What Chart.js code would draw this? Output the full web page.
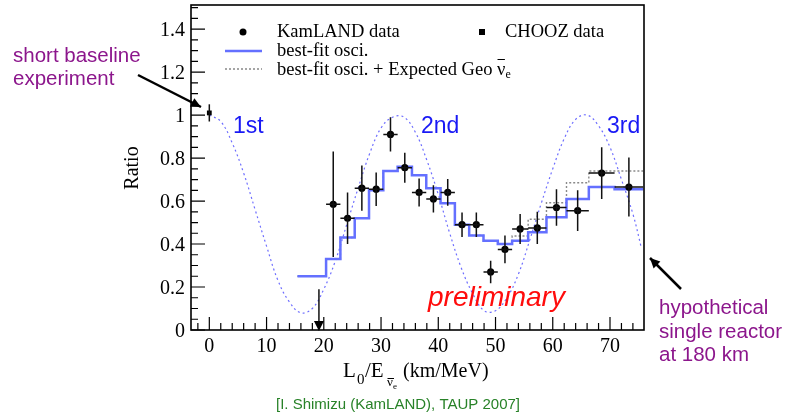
<!DOCTYPE html>
<html>
<head>
<meta charset="utf-8">
<script src="https://cdn.jsdelivr.net/npm/chart.js@4.4.0/dist/chart.umd.min.js"></script>
<style>
  body { margin: 0; background: #fff; }
  #wrap { position: relative; width: 787px; height: 417px; }
</style>
</head>
<body>
<div id="wrap"><canvas id="ratioChart" width="787" height="417"></canvas></div>
<script>
// hypothetical single reactor at 180 km (dotted curve)
const curveX = [0, 2, 4, 6, 8, 10, 12, 14, 16, 18, 20, 22, 24, 26, 28, 30, 32, 34, 36, 38,
  40, 42, 44, 46, 48, 50, 52, 54, 56, 58, 60, 62, 64, 66, 68, 70, 72, 74, 75.5]
const curveY = [1.0, 0.97, 0.87, 0.73, 0.56, 0.39, 0.23, 0.13, 0.08, 0.10, 0.19, 0.32, 0.49, 0.66, 0.82, 0.94, 0.99, 0.99, 0.92, 0.79,
  0.63, 0.45, 0.29, 0.17, 0.09, 0.09, 0.15, 0.26, 0.42, 0.59, 0.75, 0.89, 0.98, 1.0, 0.95, 0.85, 0.70, 0.54, 0.38]

// histogram bins (L0/E) for the best fit lines
const binEdges = [15.4, 17.9, 20.4, 22.9, 25.4, 27.9, 30.4, 32.9, 35.4, 37.9, 40.4, 42.9, 45.4, 47.9, 50.4, 52.9, 55.7, 58.9, 62.4, 66.3, 70.8, 75.8]
const bestFit = [0.25, 0.25, 0.33, 0.43, 0.52, 0.65, 0.74, 0.76, 0.72, 0.66, 0.59, 0.49, 0.44, 0.415, 0.40, 0.415, 0.455, 0.525, 0.61, 0.665, 0.655]
const bestFitGeo = [0.25, 0.25, 0.33, 0.43, 0.52, 0.65, 0.74, 0.76, 0.72, 0.66, 0.59, 0.49, 0.44, 0.415, 0.40, 0.437, 0.515, 0.592, 0.685, 0.74, 0.74]

// KamLAND data points
const kamX = [21.65, 24.15, 26.65, 29.15, 31.65, 34.15, 36.65, 39.15, 41.65, 44.15, 46.65, 49.15, 51.65, 54.3, 57.3, 60.65, 64.35, 68.55, 73.3]
const kamY = [0.585, 0.52, 0.66, 0.655, 0.91, 0.755, 0.64, 0.61, 0.64, 0.49, 0.49, 0.27, 0.375, 0.47, 0.475, 0.57, 0.555, 0.73, 0.665]
const kamErr = [0.245, 0.12, 0.105, 0.078, 0.08, 0.07, 0.065, 0.063, 0.062, 0.057, 0.057, 0.052, 0.065, 0.07, 0.075, 0.085, 0.095, 0.12, 0.137]
const kamXErr = [1.25, 1.25, 1.25, 1.25, 1.25, 1.25, 1.25, 1.25, 1.25, 1.25, 1.25, 1.25, 1.25, 1.4, 1.6, 1.75, 1.95, 2.25, 2.5]

// upper limit bin (arrow)
const limX = 19.15
const limY = 0.19

// CHOOZ
const choozX = [0]
const choozY = [1.01]
const choozErr = [0.04]

const xTicks = [0, 10, 20, 30, 40, 50, 60, 70]
const yTicks = [0, 0.2, 0.4, 0.6, 0.8, 1.0, 1.2, 1.4]

const serif = '"Liberation Serif", "Times New Roman", serif'
const sans = '"Liberation Sans", Arial, sans-serif'
const fitBlue = 'rgb(100, 112, 255)'
const purple = 'rgb(140, 22, 140)'

function stepData(vals) {
  return binEdges.map((e, i) => ({ x: e, y: vals[Math.min(i, vals.length - 1)] }))
}

function arrow(ctx, x1, y1, x2, y2, head) {
  ctx.beginPath()
  ctx.moveTo(x1, y1)
  ctx.lineTo(x2, y2)
  ctx.stroke()
  const a = Math.atan2(y2 - y1, x2 - x1)
  ctx.beginPath()
  ctx.moveTo(x2, y2)
  ctx.lineTo(x2 - head * Math.cos(a - 0.45), y2 - head * Math.sin(a - 0.45))
  ctx.lineTo(x2 - head * Math.cos(a + 0.45), y2 - head * Math.sin(a + 0.45))
  ctx.closePath()
  ctx.fill()
}

// error bars, frame, ticks, legend and all the labels
const extras = {
  id: 'extras',
  afterDatasetsDraw(chart) {
    const ctx = chart.ctx
    const xs = chart.scales.x, ys = chart.scales.y
    ctx.save()
    ctx.strokeStyle = '#111'
    ctx.fillStyle = '#000'
    ctx.lineWidth = 1.5
    kamX.forEach((x, i) => {
      const px = xs.getPixelForValue(x), py = ys.getPixelForValue(kamY[i])
      ctx.beginPath()
      ctx.moveTo(px, ys.getPixelForValue(kamY[i] + kamErr[i]))
      ctx.lineTo(px, ys.getPixelForValue(kamY[i] - kamErr[i]))
      ctx.moveTo(xs.getPixelForValue(x - kamXErr[i]), py)
      ctx.lineTo(xs.getPixelForValue(x + kamXErr[i]), py)
      ctx.stroke()
    })
    choozX.forEach((x, i) => {
      const px = xs.getPixelForValue(x)
      ctx.beginPath()
      ctx.moveTo(px, ys.getPixelForValue(choozY[i] + choozErr[i]))
      ctx.lineTo(px, ys.getPixelForValue(choozY[i] - choozErr[i]))
      ctx.stroke()
    })
    // upper limit
    const lx = xs.getPixelForValue(limX), l0 = ys.getPixelForValue(0)
    ctx.beginPath()
    ctx.moveTo(lx, ys.getPixelForValue(limY))
    ctx.lineTo(lx, l0 - 6)
    ctx.stroke()
    ctx.beginPath()
    ctx.moveTo(lx - 5, l0 - 9)
    ctx.lineTo(lx + 5, l0 - 9)
    ctx.lineTo(lx, l0 + 1)
    ctx.closePath()
    ctx.fill()
    ctx.restore()
  },
  afterDraw(chart) {
    const ctx = chart.ctx
    const a = chart.chartArea
    const xs = chart.scales.x, ys = chart.scales.y
    ctx.save()
    // frame
    ctx.strokeStyle = '#000'
    ctx.lineWidth = 1.6
    ctx.strokeRect(a.left, a.top, a.right - a.left, a.bottom - a.top)
    // ticks (inside, root style)
    ctx.lineWidth = 1.2
    ctx.beginPath()
    for (let v = -2; v <= 75; v += 2) {
      const px = xs.getPixelForValue(v)
      const len = v % 10 === 0 ? 13 : 7
      ctx.moveTo(px, a.bottom)
      ctx.lineTo(px, a.bottom - len)
    }
    for (let k = 0; k <= 30; k++) {
      const py = ys.getPixelForValue(k * 0.05)
      const len = k % 4 === 0 ? 14 : 7
      ctx.moveTo(a.left, py)
      ctx.lineTo(a.left + len, py)
    }
    ctx.stroke()

    ctx.fillStyle = '#000'
    // y title
    ctx.save()
    ctx.translate(138, 168)
    ctx.rotate(-Math.PI / 2)
    ctx.font = '20px ' + serif
    ctx.textAlign = 'center'
    ctx.fillText('Ratio', 0, 0)
    ctx.restore()

    // x title L0/E(nubar e) (km/MeV)
    ctx.textAlign = 'left'
    ctx.font = '21px ' + serif
    ctx.fillText('L', 343, 377)
    ctx.font = '15px ' + serif
    ctx.fillText('0', 357, 384)
    ctx.font = '21px ' + serif
    ctx.fillText('/E', 365, 377)
    ctx.font = '13px ' + serif
    ctx.fillText('ν', 387, 386)
    ctx.lineWidth = 1
    ctx.beginPath()
    ctx.moveTo(387.5, 378.5)
    ctx.lineTo(394, 378.5)
    ctx.stroke()
    ctx.font = '9px ' + serif
    ctx.fillText('e', 393, 389)
    ctx.font = '20px ' + serif
    ctx.fillText('(km/MeV)', 403, 377)

    // legend
    ctx.beginPath()
    ctx.arc(243, 32, 3.5, 0, Math.PI * 2)
    ctx.fill()
    ctx.fillRect(479, 29, 6, 6)
    ctx.font = '18.5px ' + serif
    ctx.fillText('KamLAND data', 277, 37)
    ctx.fillText('CHOOZ data', 505, 37)
    ctx.strokeStyle = fitBlue
    ctx.lineWidth = 2.5
    ctx.beginPath()
    ctx.moveTo(225, 51)
    ctx.lineTo(262, 51)
    ctx.stroke()
    ctx.fillText('best-fit osci.', 277, 56)
    ctx.strokeStyle = '#888'
    ctx.lineWidth = 1.3
    ctx.setLineDash([2, 2])
    ctx.beginPath()
    ctx.moveTo(225, 69)
    ctx.lineTo(262, 69)
    ctx.stroke()
    ctx.setLineDash([])
    const geoTxt = 'best-fit osci. + Expected Geo '
    ctx.fillText(geoTxt, 277, 75)
    let gx = 277 + ctx.measureText(geoTxt).width
    ctx.fillText('ν', gx, 75)
    const nuW = ctx.measureText('ν').width
    ctx.strokeStyle = '#000'
    ctx.lineWidth = 1
    ctx.beginPath()
    ctx.moveTo(gx + 0.5, 59.5)
    ctx.lineTo(gx + nuW - 0.5, 59.5)
    ctx.stroke()
    ctx.font = '12px ' + serif
    ctx.fillText('e', gx + nuW, 78)

    // oscillation max labels
    ctx.fillStyle = 'rgb(25, 25, 245)'
    ctx.font = '23px ' + sans
    ctx.fillText('1st', 233, 133)
    ctx.fillText('2nd', 421, 133)
    ctx.fillText('3rd', 607, 133)

    ctx.fillStyle = 'rgb(255, 12, 12)'
    ctx.font = 'italic 28px ' + sans
    ctx.fillText('preliminary', 428, 306)

    // side notes
    ctx.fillStyle = purple
    ctx.font = '20.5px ' + sans
    ctx.fillText('short baseline', 13, 62)
    ctx.fillText('experiment', 13, 85)
    ctx.fillText('hypothetical', 659, 314)
    ctx.fillText('single reactor', 659, 337.5)
    ctx.fillText('at 180 km', 659, 361)
    ctx.strokeStyle = '#000'
    ctx.fillStyle = '#000'
    ctx.lineWidth = 2.5
    arrow(ctx, 138, 75, 201, 107, 11)
    arrow(ctx, 681, 289, 650, 258, 11)

    ctx.fillStyle = 'rgb(40, 130, 40)'
    ctx.font = '15px ' + sans
    ctx.textAlign = 'center'
    ctx.fillText('[I. Shimizu (KamLAND), TAUP 2007]', 398, 409)
    ctx.restore()
  }
}

const chartEl = document.getElementById('ratioChart')

let ratioChart = new Chart(chartEl, {
  type: 'scatter',
  data: {
    datasets: [
      {
        label: 'KamLAND data',
        data: kamX.map((x, i) => ({ x: x, y: kamY[i] })),
        pointRadius: 3.6,
        pointBackgroundColor: '#000',
        pointBorderWidth: 0,
        order: 0
      },
      {
        label: 'CHOOZ data',
        data: choozX.map((x, i) => ({ x: x, y: choozY[i] })),
        pointStyle: 'rect',
        pointRadius: 3.4,
        pointBackgroundColor: '#000',
        pointBorderWidth: 0,
        order: 0
      },
      {
        label: 'best-fit osci.',
        type: 'line',
        data: stepData(bestFit),
        stepped: 'before',
        borderColor: fitBlue,
        borderWidth: 2.5,
        pointRadius: 0,
        fill: false,
        order: 1
      },
      {
        label: 'best-fit osci. + Expected Geo',
        type: 'line',
        data: stepData(bestFitGeo),
        stepped: 'before',
        borderColor: '#8a8a8a',
        borderDash: [2, 2],
        borderWidth: 1.4,
        pointRadius: 0,
        fill: false,
        order: 2
      },
      {
        label: 'single reactor',
        type: 'line',
        data: curveX.map((x, i) => ({ x: x, y: curveY[i] })),
        borderColor: 'rgb(110, 110, 255)',
        borderDash: [2, 3],
        borderWidth: 1.2,
        tension: 0.4,
        pointRadius: 0,
        fill: false,
        order: 3
      }
    ]
  },
  options: {
    responsive: false,
    animation: false,
    devicePixelRatio: 1,
    layout: { padding: { left: 0, right: 143, top: 5, bottom: 0 } },
    plugins: { legend: { display: false }, tooltip: { enabled: false } },
    scales: {
      x: {
        type: 'linear',
        min: -3.2,
        max: 75.94,
        grid: { display: false, drawTicks: false },
        border: { display: false },
        afterFit: s => { s.height = 87; s.paddingLeft = 0; s.paddingRight = 0 },
        afterBuildTicks: s => { s.ticks = xTicks.map(v => ({ value: v })) },
        ticks: {
          font: { family: serif, size: 20 },
          color: '#000',
          padding: 5,
          maxRotation: 0,
          autoSkip: false
        }
      },
      y: {
        type: 'linear',
        min: 0,
        max: 1.512,
        grid: { display: false, drawTicks: false },
        border: { display: false },
        afterFit: s => { s.width = 191; s.paddingTop = 0; s.paddingBottom = 0 },
        afterBuildTicks: s => { s.ticks = yTicks.map(v => ({ value: v })) },
        ticks: {
          font: { family: serif, size: 20 },
          color: '#000',
          padding: 6,
          labelOffset: 2,
          autoSkip: false,
          callback: v => String(+v.toFixed(1))
        }
      }
    }
  },
  plugins: [extras]
})
</script>
</body>
</html>
